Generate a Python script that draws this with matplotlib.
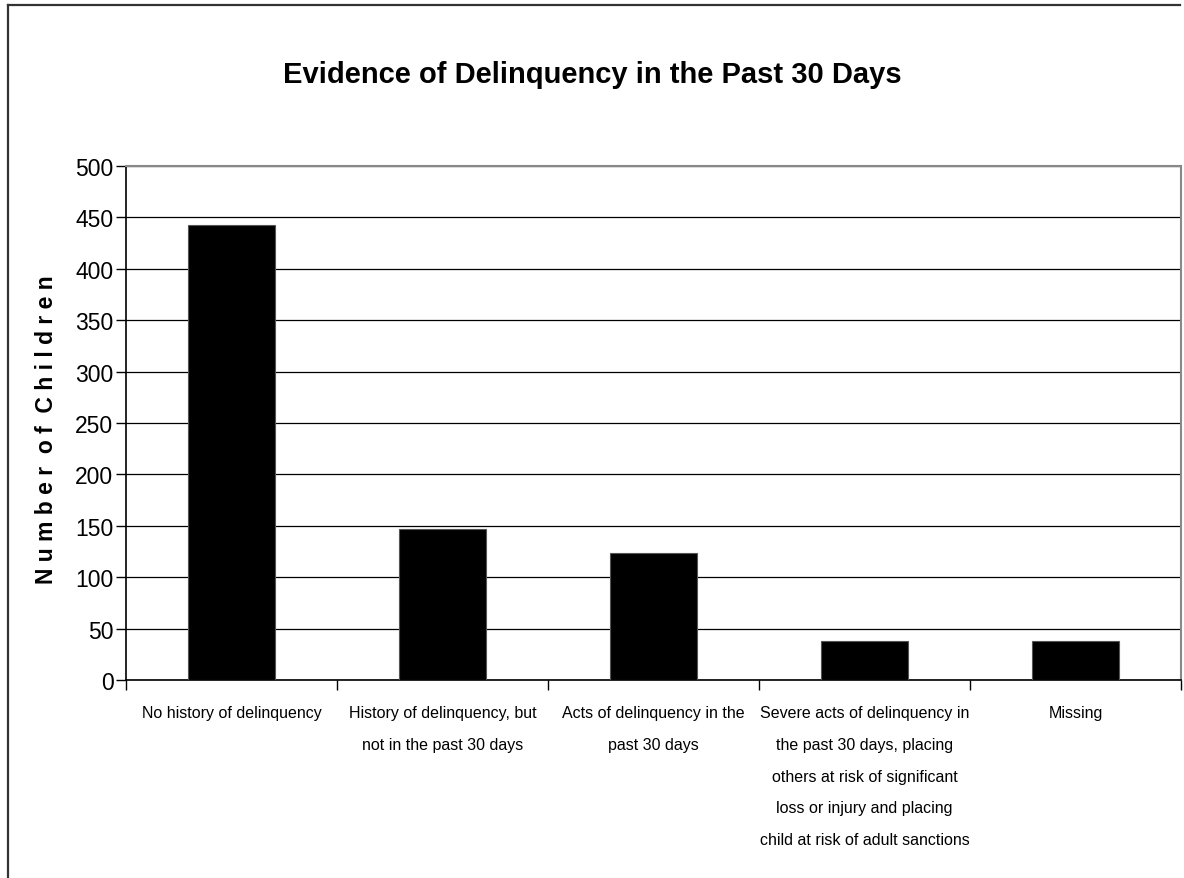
import matplotlib
matplotlib.use("Agg")
import matplotlib.pyplot as plt
import numpy as np
from matplotlib.lines import Line2D

categories = [
    "No history of delinquency",
    "History of delinquency, but\nnot in the past 30 days",
    "Acts of delinquency in the\npast 30 days",
    "Severe acts of delinquency in\nthe past 30 days, placing\nothers at risk of significant\nloss or injury and placing\nchild at risk of adult sanctions",
    "Missing",
]
counts = [443, 147, 124, 38, 38]
yticks = [0, 50, 100, 150, 200, 250, 300, 350, 400, 450, 500]

plt.rcParams['font.family'] = ['Liberation Sans Narrow', 'Liberation Sans', 'DejaVu Sans']

fig = plt.figure(figsize=(11.84, 8.79), dpi=100)
ax = fig.add_axes([126 / 1184, 1 - 681 / 879, (1181 - 126) / 1184, (681 - 167) / 879])

x = np.arange(len(categories))
ax.bar(x, counts, width=0.41, color="black", edgecolor="#555555", linewidth=0.8, zorder=3)

ax.set_ylim(0, 500)
ax.set_xlim(-0.5, len(categories) - 0.5)
ax.set_yticks(yticks)
ax.set_yticklabels([str(v) for v in yticks], fontsize=16.5)
ax.yaxis.grid(True, color="black", linewidth=0.9, zorder=0)
ax.tick_params(axis="y", direction="out", length=7, width=1, pad=2)

# boundary ticks on x, labels at centres
ax.set_xticks(np.arange(-0.5, len(categories), 1.0))
ax.set_xticklabels([])
ax.tick_params(axis="x", which="major", direction="out", length=7, width=1)
ax.set_xticks(x, minor=True)
ax.set_xticklabels(categories, minor=True, fontsize=11.5, linespacing=2.4)
ax.tick_params(axis="x", which="minor", length=0, pad=18)

for side in ["left", "bottom"]:
    ax.spines[side].set_color("black")
    ax.spines[side].set_linewidth(1.2)
for side in ["top", "right"]:
    ax.spines[side].set_color("#888888")
    ax.spines[side].set_linewidth(1.5)

fig.text(0.5, 1 - 75 / 879, "Evidence of Delinquency in the Past 30 Days",
         ha="center", va="center", fontsize=21, fontweight="bold",
         family=["Liberation Sans", "DejaVu Sans"])
fig.text(47 / 1184, 1 - 430 / 879, "N u m b e r  o f  C h i l d r e n",
         ha="center", va="center", rotation=90, fontsize=16.5, fontweight="bold",
         family=["Liberation Sans", "DejaVu Sans"])

# outer chart frame (cropped at right and bottom)
fig.add_artist(Line2D([8 / 1184, 8 / 1184], [0, 1 - 6 / 879], color="#333333", linewidth=1.6))
fig.add_artist(Line2D([8 / 1184, 1180 / 1184], [1 - 6 / 879, 1 - 6 / 879], color="#333333", linewidth=1.6))

fig.savefig("out.png", dpi=100)
